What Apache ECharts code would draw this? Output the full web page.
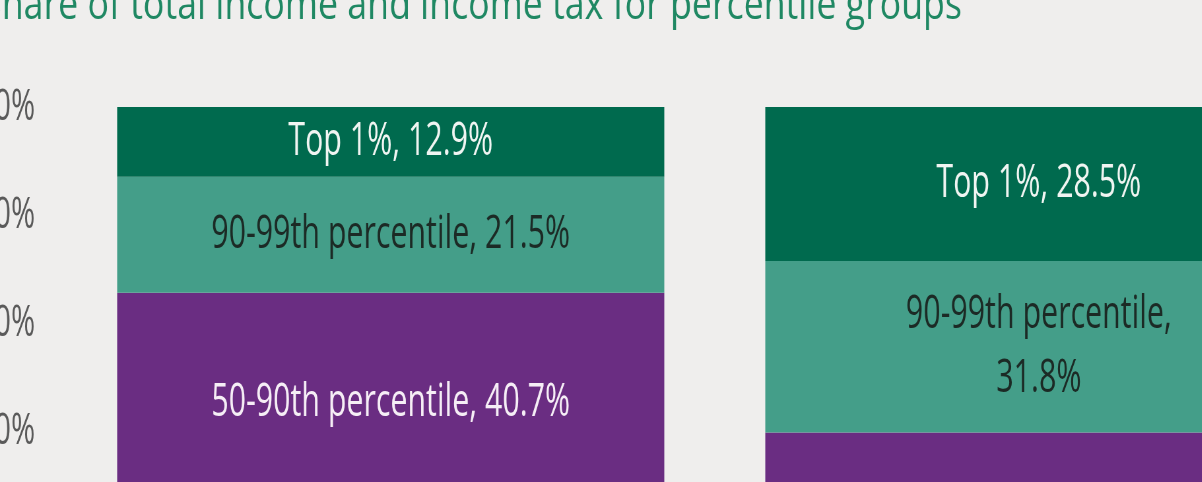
<!DOCTYPE html>
<html>
<head>
<meta charset="utf-8">
<script src="https://cdn.jsdelivr.net/npm/echarts@6/dist/echarts.min.js"></script>
<style>
html,body{margin:0;padding:0;overflow:hidden;background:#efeeed;}
#c{width:1821px;height:482px;transform:scaleX(0.66);transform-origin:0 0;}
</style>
</head>
<body>
<div id="c"></div>
<script>
var categories = ['Share of total income', 'Share of income tax'];
var bottom50 = [24.9, 6.1];
var p50to90 = [40.7, 33.6];
var p90to99 = [21.5, 31.8];
var top1 = [12.9, 28.5];
var yTicks = [0, 20, 40, 60, 80, 100];
var titleText = 'Share of total income and income tax for percentile groups';

var chart = echarts.init(document.getElementById('c'), null, {renderer: 'canvas'});
var labelFont = {fontFamily: 'Open Sans', fontSize: 46, lineHeight: 64};

function seg(name, data, color, labelColor, overrides) {
  return {
    name: name,
    type: 'bar',
    stack: 'total',
    barWidth: 829,
    data: data.map(function (v, i) {
      var item = {value: v};
      if (overrides && overrides[i]) item.label = overrides[i];
      return item;
    }),
    itemStyle: {color: color},
    label: Object.assign({
      show: true,
      position: 'inside',
      formatter: '{a}, {c}%',
      color: labelColor
    }, labelFont),
    emphasis: {disabled: true}
  };
}

chart.setOption({
  backgroundColor: '#efeeed',
  animation: false,
  graphic: [{
    type: 'text',
    x: -27,
    y: 6,
    scaleX: 1.23,
    style: {
      text: titleText,
      font: '44px "Open Sans"',
      fill: '#1f8863',
      textAlign: 'left',
      textVerticalAlign: 'middle'
    }
  }],
  grid: {left: 101, top: 107, width: 1964, height: 540, containLabel: false, outerBoundsMode: 'none'},
  xAxis: {
    type: 'category',
    data: categories,
    axisLine: {show: false},
    axisTick: {show: false},
    axisLabel: {show: false}
  },
  yAxis: {
    type: 'value',
    min: yTicks[0],
    max: yTicks[yTicks.length - 1],
    interval: 20,
    axisLine: {show: false},
    axisTick: {show: false},
    splitLine: {show: false},
    axisLabel: {
      formatter: '{value}%',
      color: '#5a5a5a',
      fontFamily: 'Open Sans',
      fontSize: 44,
      margin: 48
    }
  },
  series: [
    seg('Bottom 50%', bottom50, '#b9a3c8', '#222222'),
    seg('50-90th percentile', p50to90, '#6a2d82', '#f6eef6'),
    seg('90-99th percentile', p90to99, '#449e89', '#1c2a25', [null, {formatter: '{a},\n{c}%'}]),
    seg('Top 1%', top1, '#006a4e', '#f0f5f2')
  ]
});
</script>
</body>
</html>
